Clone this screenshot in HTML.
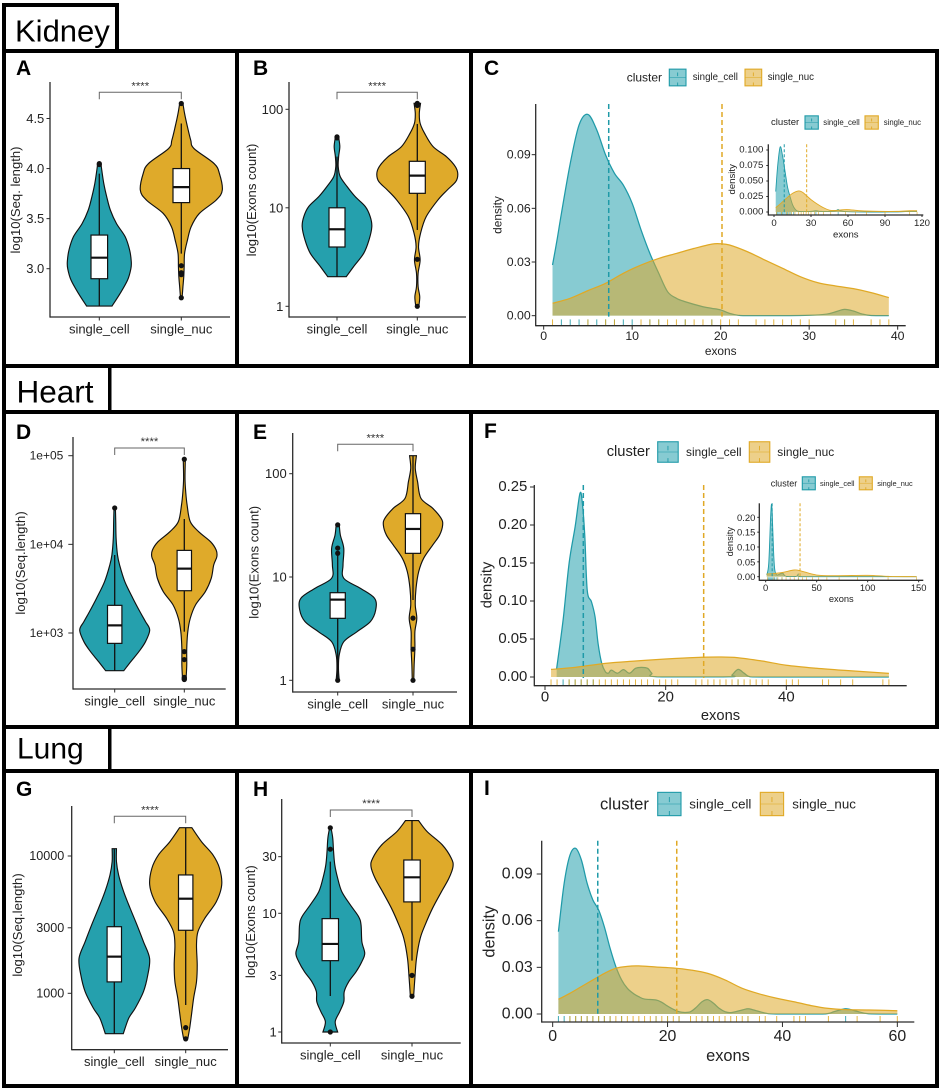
<!DOCTYPE html>
<html lang="en">
<head>
<meta charset="utf-8">
<title>Kidney, Heart and Lung transcript statistics</title>
<style>
html,body{margin:0;padding:0;background:#fff;}
svg{display:block;font-family:"Liberation Sans",sans-serif;}
</style>
</head>
<body>
<svg id="figure" xmlns="http://www.w3.org/2000/svg" width="941" height="1090" viewBox="0 0 941 1090">
<rect x="0" y="0" width="941" height="1090" fill="#fff"/>
<g id="frames" fill="#000">
<rect x="2" y="3" width="4" height="48"/>
<rect x="2" y="3" width="117" height="4"/>
<rect x="115" y="3" width="4" height="48"/>
<rect x="2" y="49" width="937" height="4"/>
<rect x="2" y="364" width="937" height="4"/>
<rect x="2" y="49" width="4" height="319"/>
<rect x="235" y="49" width="4" height="319"/>
<rect x="469" y="49" width="4" height="319"/>
<rect x="935" y="49" width="4" height="319"/>
<rect x="2" y="365" width="4" height="49"/>
<rect x="108" y="365" width="3.5" height="49"/>
<rect x="2" y="410" width="937" height="4"/>
<rect x="2" y="725" width="937" height="4"/>
<rect x="2" y="410" width="4" height="319"/>
<rect x="235" y="410" width="4" height="319"/>
<rect x="469" y="410" width="4" height="319"/>
<rect x="935" y="410" width="4" height="319"/>
<rect x="2" y="725" width="4" height="48"/>
<rect x="108" y="725" width="3.5" height="48"/>
<rect x="2" y="769" width="937" height="4"/>
<rect x="2" y="1084" width="937" height="4"/>
<rect x="2" y="769" width="4" height="319"/>
<rect x="235" y="769" width="4" height="319"/>
<rect x="469" y="769" width="4" height="319"/>
<rect x="935" y="769" width="4" height="319"/>
</g>
<text x="15" y="41.7" font-size="31" fill="#000">Kidney</text>
<text x="16.5" y="402.7" font-size="31.5" fill="#000">Heart</text>
<text x="17" y="758.3" font-size="30" fill="#000">Lung</text>
<g font-weight="bold" font-size="21" fill="#000">
<text x="16" y="75">A</text>
<text x="253" y="75">B</text>
<text x="484" y="75">C</text>
<text x="16" y="439">D</text>
<text x="253" y="439">E</text>
<text x="484" y="438">F</text>
<text x="16" y="796">G</text>
<text x="253" y="796">H</text>
<text x="484" y="795">I</text>
</g>
<g id="charts"></g>
</svg>
<script>
// ---------- shared categories ----------
const categories = ['single_cell', 'single_nuc'];
const clusterTitle = 'cluster';

// ---------- panel A ----------
const aTicks = [3, 3.5, 4, 4.5];
const aTickLabels = ['3.0', '3.5', '4.0', '4.5'];
const aCellValues = [2.627, 2.754, 2.887, 3.0, 3.07, 3.186, 3.32, 3.45, 3.585, 3.72, 3.85, 3.985, 4.05];
const aCellDensity = [31, 51, 69, 77, 78, 74, 63, 42, 27, 18, 11, 6, 4];
const aCellBox = [2.627, 2.90, 3.11, 3.336, 3.95];
const aCellOutliers = [4.05, 4.04];
const aNucValues = [2.714, 2.82, 2.92, 3.02, 3.153, 3.286, 3.419, 3.552, 3.685, 3.785, 3.95, 4.05, 4.20, 4.284, 4.417, 4.55, 4.65];
const aNucDensity = [2, 4, 6, 7, 8, 15, 24, 44, 85, 100, 93, 80, 31, 23, 15, 8, 4];
const aNucBox = [3.15, 3.66, 3.815, 4.0, 4.45];
const aNucOutliers = [4.65, 3.03, 2.96, 2.94, 2.71];

// ---------- panel B ----------
const bTicks = [1, 10, 100];
const bTickLabels = ['1', '10', '100'];
const bCellValues = [0.301, 0.403, 0.538, 0.673, 0.809, 0.91, 1.012, 1.113, 1.215, 1.316, 1.418, 1.519, 1.621, 1.716];
const bCellDensity = [23, 41, 66, 79, 86, 82, 70, 45, 25, 8, 3, 4, 7, 4];
const bCellBox = [0.301, 0.602, 0.782, 1.0, 1.52];
const bCellOutliers = [1.72, 1.71];
const bNucValues = [0.007, 0.098, 0.2, 0.335, 0.47, 0.606, 0.741, 0.91, 1.08, 1.181, 1.266, 1.343, 1.418, 1.519, 1.621, 1.756, 1.858, 1.959, 2.061];
const bNucDensity = [4, 6, 2, 2, 7, 3, 8, 22, 51, 74, 95, 100, 94, 72, 39, 18, 7, 5, 8];
const bNucBox = [0.775, 1.147, 1.327, 1.472, 1.851];
const bNucOutliers = [2.06, 2.05, 2.04, 0.477, 0.0];

// ---------- panel D ----------
const dTicks = [1000, 10000, 100000];
const dTickLabels = ['1e+03', '1e+04', '1e+05'];
const dCellValues = [2.575, 2.677, 2.789, 2.902, 3.034, 3.128, 3.241, 3.391, 3.579, 3.767, 3.88, 4.068, 4.256, 4.406];
const dCellDensity = [26, 46, 69, 88, 100, 88, 72, 52, 29, 14, 8, 4, 3, 2];
const dCellBox = [2.575, 2.883, 3.086, 3.312, 3.88];
const dCellOutliers = [4.41];
const dNucValues = [2.481, 2.639, 2.827, 3.015, 3.165, 3.316, 3.466, 3.617, 3.767, 3.861, 3.936, 4.03, 4.143, 4.256, 4.444, 4.594, 4.744, 4.962];
const dNucDensity = [5, 7, 7, 10, 17, 32, 60, 77, 84, 93, 91, 75, 41, 17, 8, 4, 2, 3];
const dNucBox = [3.015, 3.477, 3.726, 3.932, 4.286];
const dNucOutliers = [4.96, 2.79, 2.70, 2.50, 2.49, 2.48, 2.475];

// ---------- panel E ----------
const eTicks = [1, 10, 100];
const eTickLabels = ['1', '10', '100'];
const eCellValues = [0, 0.116, 0.245, 0.374, 0.471, 0.568, 0.681, 0.794, 0.89, 0.987, 1.116, 1.277, 1.406, 1.51];
const eCellDensity = [4, 2, 4, 16, 51, 86, 100, 97, 60, 16, 14, 16, 7, 4];
const eCellBox = [0.0, 0.6, 0.781, 0.848, 1.245];
const eCellOutliers = [1.505, 1.28, 1.23, 0];
const eNucValues = [0.003, 0.148, 0.31, 0.471, 0.6, 0.729, 0.89, 1.052, 1.181, 1.31, 1.406, 1.503, 1.568, 1.665, 1.761, 1.923, 2.052, 2.174];
const eNucDensity = [2, 3, 5, 5, 10, 6, 8, 15, 28, 52, 70, 78, 74, 52, 21, 12, 6, 9];
const eNucBox = [0.777, 1.229, 1.465, 1.613, 2.174];
const eNucOutliers = [0.602, 0.301, 0];

// ---------- panel G ----------
const gTicks = [1000, 3000, 10000];
const gTickLabels = ['1000', '3000', '10000'];
const gCellValues = [2.706, 2.818, 2.891, 3.012, 3.133, 3.255, 3.376, 3.498, 3.619, 3.74, 3.862, 3.959, 4.053];
const gCellDensity = [25, 40, 58, 81, 93, 98, 81, 63, 44, 26, 12, 6, 6];
const gCellBox = [2.706, 3.083, 3.267, 3.485, 4.053];
const gCellOutliers = [];
const gNucValues = [2.672, 2.745, 2.842, 2.964, 3.085, 3.206, 3.352, 3.449, 3.546, 3.667, 3.789, 3.91, 4.007, 4.104, 4.206];
const gNucDensity = [6, 11, 16, 22, 30, 32, 30, 34, 53, 85, 100, 94, 76, 44, 17];
const gNucBox = [2.915, 3.459, 3.689, 3.862, 4.206];
const gNucOutliers = [2.75, 2.668];

// ---------- panel H ----------
const hTicks = [1, 3, 10, 30];
const hTickLabels = ['1', '3', '10', '30'];
const hCellValues = [0, 0.087, 0.171, 0.256, 0.34, 0.424, 0.508, 0.593, 0.663, 0.761, 0.902, 0.972, 1.07, 1.183, 1.295, 1.407, 1.52, 1.632, 1.716];
const hCellDensity = [18, 12, 23, 33, 34, 45, 63, 77, 84, 77, 75, 69, 49, 28, 18, 11, 8, 6, 2];
const hCellBox = [0.303, 0.601, 0.742, 0.955, 1.435];
const hCellOutliers = [1.72, 1.54, 0];
const hNucValues = [0.303, 0.452, 0.621, 0.789, 0.902, 1.042, 1.183, 1.295, 1.393, 1.463, 1.576, 1.688, 1.781];
const hNucDensity = [4, 7, 11, 20, 32, 50, 72, 90, 100, 96, 74, 37, 16];
const hNucBox = [0.601, 1.096, 1.303, 1.449, 1.781];
const hNucOutliers = [0.477, 0.301];

// ---------- panel C ----------
const cXTicks = [0, 10, 20, 30, 40];
const cYTicks = [0, 0.03, 0.06, 0.09];
const cYTickLabels = ['0.00', '0.03', '0.06', '0.09'];
const cCellX = [1, 1.5, 2, 3, 4, 5, 6, 7, 8, 9, 10, 11, 12, 13, 14, 15, 16, 18, 19, 20, 21, 22, 23, 27, 30, 32, 33, 34, 35, 36, 37, 39];
const cCellDensity = [0.0283, 0.042, 0.057, 0.085, 0.1066, 0.1125, 0.1038, 0.0898, 0.0796, 0.073, 0.0628, 0.048, 0.0348, 0.0237, 0.0134, 0.0097, 0.0078, 0.005, 0.0041, 0.0032, 0.0013, 0.0002, 0, 0, 0.0002, 0.0009, 0.0022, 0.0035, 0.0026, 0.0009, 0.0001, 0];
const cNucX = [1, 3, 5, 7, 9, 11, 13, 15, 17, 19, 20, 21, 23, 25, 27, 29, 31, 33, 35, 37, 39];
const cNucDensity = [0.0069, 0.0097, 0.014, 0.0181, 0.0237, 0.0283, 0.032, 0.0348, 0.0376, 0.04, 0.0402, 0.0395, 0.0358, 0.0311, 0.0265, 0.0218, 0.0184, 0.0166, 0.0151, 0.0129, 0.0101];
const cMeans = [7.35, 20.15];
const cCellRug = [2, 3, 4, 5, 6, 7, 8, 9, 10, 12, 13, 16, 19, 34];
const cNucRug = [1, 5, 7, 8, 11, 12, 13, 14, 15, 16, 17, 18, 19, 20, 21, 22, 24, 25, 26, 27, 28, 29, 30, 33, 34, 35, 37, 38, 39];

// ---------- panel C inset ----------
const ciXTicks = [0, 30, 60, 90, 120];
const ciYTicks = [0, 0.025, 0.05, 0.075, 0.1];
const ciYTickLabels = ['0.000', '0.025', '0.050', '0.075', '0.100'];
const ciCellX = [1.4, 3, 5, 7, 9, 11, 13, 15, 17, 20, 30, 34, 38, 45, 50, 52, 54, 60, 80, 100, 110, 116];
const ciCellDensity = [0.033, 0.075, 0.105, 0.09, 0.065, 0.04, 0.025, 0.012, 0.005, 0.001, 0.001, 0.002, 0.001, 0.001, 0.002, 0.004, 0.002, 0.0005, 0, 0.0002, 0.001, 0.001];
const ciNucX = [1.4, 5, 10, 15, 20, 23, 26, 30, 35, 40, 45, 50, 59, 70, 85, 100, 110, 116];
const ciNucDensity = [0.007, 0.013, 0.022, 0.03, 0.034, 0.032, 0.027, 0.02, 0.013, 0.007, 0.003, 0.0025, 0.004, 0.002, 0.001, 0.001, 0.002, 0.002];
const ciMeans = [8.3, 26.5];
const ciCellRug = [2, 3, 4, 5, 6, 7, 8, 9, 10, 11, 12, 13, 14, 16, 34, 52];
const ciNucRug = [2, 6, 10, 12, 14, 17, 20, 22, 24, 26, 28, 30, 33, 36, 40, 46, 58, 66, 75, 90, 110, 116];

// ---------- panel F ----------
const fXTicks = [0, 20, 40];
const fYTicks = [0, 0.05, 0.1, 0.15, 0.2, 0.25];
const fYTickLabels = ['0.00', '0.05', '0.10', '0.15', '0.20', '0.25'];
const fCellX = [1.93, 3, 4, 5, 5.8, 6.2, 6.6, 7, 7.7, 8.3, 8.8, 9.4, 10, 10.5, 11, 12, 13, 14, 15, 16, 17, 17.7, 18.5, 30.5, 31, 32, 33, 34, 37, 57];
const fCellDensity = [0.011, 0.075, 0.15, 0.198, 0.2417, 0.228, 0.185, 0.114, 0.099, 0.079, 0.044, 0.018, 0.007, 0.005, 0.009, 0.005, 0.0097, 0.005, 0.0114, 0.0127, 0.0114, 0.005, 0.0004, 0.0004, 0.0026, 0.01, 0.005, 0.0004, 0, 0];
const fNucX = [1, 5, 10, 15, 20, 25, 29, 32, 36, 40, 45, 50, 57];
const fNucDensity = [0.01, 0.0127, 0.018, 0.021, 0.0237, 0.0257, 0.0263, 0.0254, 0.021, 0.0155, 0.0115, 0.0085, 0.0048];
const fMeans = [6.35, 26.3];
const fCellRug = [3, 4, 5, 6, 7, 8, 32];
const fNucRug = [1, 2, 4, 5, 6, 7, 8, 9, 10, 11, 12, 13, 14, 15, 16, 17, 18, 19, 20, 21, 22, 25, 26, 27, 28, 29, 30, 31, 32, 33, 34, 35, 36, 37, 40, 41, 42, 46, 47, 49, 51, 56, 57];

// ---------- panel F inset ----------
const fiXTicks = [0, 50, 100, 150];
const fiYTicks = [0, 0.05, 0.1, 0.15, 0.2];
const fiYTickLabels = ['0.00', '0.05', '0.10', '0.15', '0.20'];
const fiCellX = [1, 3, 5, 6, 7, 8, 9, 11, 15, 17, 20, 30, 32, 34, 60, 148];
const fiCellDensity = [0.006, 0.045, 0.213, 0.24, 0.157, 0.067, 0.022, 0.0056, 0.011, 0.011, 0.001, 0.001, 0.009, 0, 0, 0];
const fiNucX = [1, 15, 28, 35, 50, 70, 100, 120, 148];
const fiNucDensity = [0.009, 0.0135, 0.0225, 0.019, 0.0056, 0.0034, 0.0045, 0.001, 0];
const fiMeans = [6.35, 33.7];
const fiCellRug = [2, 3, 4, 5, 6, 7, 8, 9, 11, 16, 32];
const fiNucRug = [2, 8, 12, 16, 20, 24, 28, 32, 36, 40, 46, 52, 60, 72, 90, 105, 120, 148];

// ---------- panel I ----------
const iXTicks = [0, 20, 40, 60];
const iYTicks = [0, 0.03, 0.06, 0.09];
const iYTickLabels = ['0.00', '0.03', '0.06', '0.09'];
const iCellX = [1, 2, 3, 4, 5, 6, 7, 8, 9, 10, 11, 12, 13, 14, 15, 16, 18, 19, 20, 21, 22, 23, 24, 25, 26, 27, 28, 29, 30, 31, 33, 34, 35, 37, 39, 47, 49, 51, 53, 55, 60];
const iCellDensity = [0.0529, 0.084, 0.102, 0.1065, 0.099, 0.084, 0.0733, 0.0669, 0.056, 0.0422, 0.0304, 0.0219, 0.0165, 0.0133, 0.0111, 0.0096, 0.009, 0.0075, 0.0051, 0.003, 0.0015, 0.001, 0.0015, 0.0043, 0.0079, 0.0092, 0.0069, 0.0036, 0.0015, 0.0009, 0.0026, 0.0034, 0.0026, 0.0006, 0, 0, 0.0015, 0.0034, 0.0017, 0.0002, 0];
const iNucX = [1, 3, 5, 7, 9, 11, 13, 15, 18, 21, 24, 27, 30, 33, 36, 39, 42, 45, 48, 51, 55, 60];
const iNucDensity = [0.0094, 0.0133, 0.0176, 0.0219, 0.0261, 0.0294, 0.0306, 0.0309, 0.0302, 0.0296, 0.0283, 0.0261, 0.0219, 0.0165, 0.0129, 0.0101, 0.0079, 0.0054, 0.0036, 0.0028, 0.0026, 0.0021];
const iMeans = [7.85, 21.6];
const iCellRug = [1, 2, 3, 4, 5, 6, 7, 8, 9, 10, 12, 18, 20, 22, 27, 34, 51];
const iNucRug = [3, 4, 5, 6, 7, 8, 9, 10, 11, 12, 13, 14, 15, 16, 17, 18, 19, 20, 21, 22, 24, 25, 26, 27, 28, 29, 30, 31, 32, 33, 34, 36, 37, 39, 42, 43, 44, 48, 53, 57, 60];

// ---------- drawing helpers ----------
const NS = 'http://www.w3.org/2000/svg';
const TEAL = '#25a0ad';
const GOLD = '#dfaa2a';
const TEAL_LINE = '#1f9aa8';
const GOLD_LINE = '#e0a925';
const AXIS = '#2b2b2b';
const root = document.getElementById('charts');

function el(tag, attrs, parent, name, text) {
  const e = document.createElementNS(NS, tag);
  for (const k in attrs) e.setAttribute(k, attrs[k]);
  
  
  if (text !== undefined) e.textContent = text;
  parent.appendChild(e);
  return e;
}

function linear(d0, r0, d1, r1) {
  const k = (r1 - r0) / (d1 - d0);
  return v => r0 + (v - d0) * k;
}

function smooth(pts, minY, maxY) {
  let d = '';
  const t = 1 / 6;
  const lim = v => Math.min(maxY, Math.max(minY, v));
  for (let i = 0; i < pts.length - 1; i++) {
    const p0 = pts[Math.max(i - 1, 0)], p1 = pts[i], p2 = pts[i + 1], p3 = pts[Math.min(i + 2, pts.length - 1)];
    const c1x = p1[0] + (p2[0] - p0[0]) * t, c1y = lim(p1[1] + (p2[1] - p0[1]) * t);
    const c2x = p2[0] - (p3[0] - p1[0]) * t, c2y = lim(p2[1] - (p3[1] - p1[1]) * t);
    d += 'C' + c1x.toFixed(2) + ' ' + c1y.toFixed(2) + ' ' + c2x.toFixed(2) + ' ' + c2y.toFixed(2) + ' ' + p2[0].toFixed(2) + ' ' + p2[1].toFixed(2);
  }
  return d;
}

function drawAxesFrame(g, c) {
  el('line', {x1: c.axisX0, x2: c.axisX0, y1: c.axisTop, y2: c.axisY + 0.6, stroke: AXIS, 'stroke-width': c.axisW || 1.3}, g, 'y-axis-line');
  el('line', {x1: c.axisX0, x2: c.axisX1, y1: c.axisY, y2: c.axisY, stroke: AXIS, 'stroke-width': c.axisW || 1.3}, g, 'x-axis-line');
}

function drawYTicks(g, c, ticks, labels, posFn) {
  ticks.forEach((t, i) => {
    const y = posFn(t);
    el('line', {x1: c.axisX0 - (c.tickLen || 3.5), x2: c.axisX0, y1: y, y2: y, stroke: AXIS, 'stroke-width': 1}, g, 'y-tick-' + labels[i]);
    el('text', {x: c.axisX0 - c.labelOff, y: y, 'text-anchor': 'end', 'dominant-baseline': 'central', 'font-size': c.tickFont, fill: '#222'}, g, 'y-tick-label-' + labels[i], labels[i]);
  });
}

function drawViolinPanel(c) {
  const g = el('g', {}, root, 'panel-' + c.id);
  const y = linear(c.yRef[0], c.yRef[1], c.yRef[2], c.yRef[3]);
  const tickPos = t => y(c.logTicks ? Math.log10(t) : t);
  drawAxesFrame(g, c);
  drawYTicks(g, c, c.ticks, c.tickLabels, tickPos);
  el('text', {x: c.titleX, y: c.titleY, 'text-anchor': 'middle', 'dominant-baseline': 'central', 'font-size': 13.1, fill: '#222', transform: 'rotate(-90 ' + c.titleX + ' ' + c.titleY + ')'}, g, 'y-axis-title', c.title);
  categories.forEach((cat, i) => {
    const cx = c.catX[i];
    el('line', {x1: cx, x2: cx, y1: c.axisY, y2: c.axisY + 3.5, stroke: AXIS, 'stroke-width': 1}, g, 'x-tick-' + cat);
    el('text', {x: cx, y: c.axisY + 12, 'text-anchor': 'middle', 'dominant-baseline': 'central', 'font-size': 13, fill: '#222'}, g, 'x-tick-label-' + cat, cat);
    const s = c.series[i];
    const w = d => d / 100 * c.maxHalf;
    const left = s.values.map((v, k) => [cx - w(s.density[k]), y(v)]);
    const right = s.values.map((v, k) => [cx + w(s.density[k]), y(v)]).reverse();
    let d = 'M' + left[0][0].toFixed(2) + ' ' + left[0][1].toFixed(2) + smooth(left, -1e5, 1e5);
    d += 'L' + right[0][0].toFixed(2) + ' ' + right[0][1].toFixed(2) + smooth(right, -1e5, 1e5) + 'Z';
    el('path', {d: d, fill: i === 0 ? TEAL : GOLD, stroke: '#111', 'stroke-width': 1.15}, g, 'violin-' + cat);
    const b = s.box;
    el('line', {x1: cx, x2: cx, y1: y(b[0]), y2: y(b[4]), stroke: '#111', 'stroke-width': 1.3}, g, 'whisker-' + cat);
    el('rect', {x: cx - c.boxHalf, y: y(b[3]), width: c.boxHalf * 2, height: y(b[1]) - y(b[3]), fill: '#fff', stroke: '#111', 'stroke-width': 1.2}, g, 'box-' + cat);
    el('line', {x1: cx - c.boxHalf, x2: cx + c.boxHalf, y1: y(b[2]), y2: y(b[2]), stroke: '#111', 'stroke-width': 2.2}, g, 'median-' + cat);
    s.outliers.forEach(o => {
      el('circle', {cx: cx, cy: y(o), r: 2.6, fill: '#111'}, g, 'outlier-' + cat);
    });
  });
  const bx0 = c.catX[0], bx1 = c.catX[1];
  el('path', {d: 'M' + bx0 + ' ' + (c.bracketY + 7) + 'V' + c.bracketY + 'H' + bx1 + 'V' + (c.bracketY + 7 - (c.bracketDrop || 0)), fill: 'none', stroke: '#666', 'stroke-width': 1}, g, 'significance-bracket');
  el('text', {x: (bx0 + bx1) / 2, y: c.bracketY - 3, 'text-anchor': 'middle', 'font-size': 11.4, fill: '#333'}, g, 'significance-stars', '****');
}

function drawDensityPanel(c) {
  const g = el('g', {}, root, 'panel-' + c.id);
  const x = linear(c.xRef[0], c.xRef[1], c.xRef[2], c.xRef[3]);
  const y = linear(c.yRef[0], c.yRef[1], c.yRef[2], c.yRef[3]);
  const base = y(0);
  const series = [
    {name: categories[0], xs: c.cellX, ds: c.cellDensity, rug: c.cellRug, mean: c.means[0], fill: TEAL, line: TEAL_LINE},
    {name: categories[1], xs: c.nucX, ds: c.nucDensity, rug: c.nucRug, mean: c.means[1], fill: GOLD, line: GOLD_LINE}
  ];
  series.forEach(s => {
    const pts = s.xs.map((v, k) => [x(v), y(s.ds[k])]);
    const top = 'M' + pts[0][0].toFixed(2) + ' ' + pts[0][1].toFixed(2) + smooth(pts, 0, base);
    const last = pts[pts.length - 1];
    el('path', {d: top + 'L' + last[0].toFixed(2) + ' ' + base + 'L' + pts[0][0].toFixed(2) + ' ' + base + 'Z', fill: s.fill, 'fill-opacity': 0.55, stroke: 'none'}, g, 'density-area-' + s.name);
    el('path', {d: top, fill: 'none', stroke: s.line, 'stroke-width': c.lineW || 1.25}, g, 'density-line-' + s.name);
  });
  series.forEach(s => {
    el('line', {x1: x(s.mean), x2: x(s.mean), y1: c.axisTop, y2: base + 1, stroke: s.line, 'stroke-width': c.dashW || 1.5, 'stroke-dasharray': c.dash || '5 3'}, g, 'mean-line-' + s.name);
    s.rug.forEach(v => {
      el('line', {x1: x(v), x2: x(v), y1: c.axisY - c.rugLen, y2: c.axisY, stroke: s.line, 'stroke-width': c.rugW || 1, 'stroke-opacity': 0.85}, g, 'rug-' + s.name);
    });
  });
  drawAxesFrame(g, c);
  drawYTicks(g, c, c.yTicks, c.yTickLabels, y);
  c.xTicks.forEach(t => {
    el('line', {x1: x(t), x2: x(t), y1: c.axisY, y2: c.axisY + (c.tickLen || 3.5), stroke: AXIS, 'stroke-width': 1}, g, 'x-tick-' + t);
    el('text', {x: x(t), y: c.xLabelY, 'text-anchor': 'middle', 'dominant-baseline': 'central', 'font-size': c.tickFont, fill: '#222'}, g, 'x-tick-label-' + t, String(t));
  });
  el('text', {x: (c.axisX0 + c.axisX1) / 2, y: c.xTitleY, 'text-anchor': 'middle', 'dominant-baseline': 'central', 'font-size': c.titleFont, fill: '#222'}, g, 'x-axis-title', 'exons');
  el('text', {x: c.yTitleX, y: c.yTitleY, 'text-anchor': 'middle', 'dominant-baseline': 'central', 'font-size': c.titleFont, fill: '#222', transform: 'rotate(-90 ' + c.yTitleX + ' ' + c.yTitleY + ')'}, g, 'y-axis-title', 'density');
  const L = c.legend;
  const lg = el('g', {}, g, 'legend');
  el('text', {x: L.titleX, y: L.cy, 'dominant-baseline': 'central', 'font-size': L.titleFont, fill: '#222'}, lg, 'legend-title', clusterTitle);
  categories.forEach((cat, i) => {
    const kx = L.keyX[i], ky = L.cy - L.size / 2, sz = L.size;
    const col = i === 0 ? TEAL_LINE : GOLD_LINE, fill = i === 0 ? TEAL : GOLD;
    el('rect', {x: kx, y: ky, width: sz, height: sz, fill: fill, 'fill-opacity': 0.55, stroke: col, 'stroke-width': 1.1}, lg, 'legend-key-' + cat);
    el('line', {x1: kx, x2: kx + sz, y1: L.cy, y2: L.cy, stroke: col, 'stroke-width': 0.7, 'stroke-opacity': 0.7}, lg, 'legend-key-midline-' + cat);
    el('line', {x1: kx + sz / 2, x2: kx + sz / 2, y1: ky + sz * 0.2, y2: ky + sz * 0.42, stroke: col, 'stroke-width': 0.9}, lg, 'legend-key-tick-top-' + cat);
    el('line', {x1: kx + sz / 2, x2: kx + sz / 2, y1: ky + sz * 0.8, y2: ky + sz, stroke: col, 'stroke-width': 0.9}, lg, 'legend-key-tick-bottom-' + cat);
    el('text', {x: L.labelX[i], y: L.cy, 'dominant-baseline': 'central', 'font-size': L.labelFont, fill: '#222'}, lg, 'legend-label-' + cat, cat);
  });
}

// ---------- violin panels ----------
drawViolinPanel({id: 'a', axisX0: 50, axisX1: 230, axisY: 317, axisTop: 82, labelOff: 5.7, yRef: [3, 268.7, 4.5, 118.5], catX: [99.3, 181.3], maxHalf: 41, boxHalf: 8.3, ticks: aTicks, tickLabels: aTickLabels, logTicks: false, tickFont: 13, title: 'log10(Seq. length)', titleX: 15.7, titleY: 200, bracketY: 92.3, series: [
  {values: aCellValues, density: aCellDensity, box: aCellBox, outliers: aCellOutliers},
  {values: aNucValues, density: aNucDensity, box: aNucBox, outliers: aNucOutliers}]});
drawViolinPanel({id: 'b', axisX0: 289, axisX1: 466, axisY: 317, axisTop: 82, labelOff: 5.7, yRef: [0, 306.3, 2, 109.3], catX: [337, 417.3], maxHalf: 40.5, boxHalf: 8, ticks: bTicks, tickLabels: bTickLabels, logTicks: true, tickFont: 13, title: 'log10(Exons count)', titleX: 251.7, titleY: 200, bracketY: 92.3, series: [
  {values: bCellValues, density: bCellDensity, box: bCellBox, outliers: bCellOutliers},
  {values: bNucValues, density: bNucDensity, box: bNucBox, outliers: bNucOutliers}]});
drawViolinPanel({id: 'd', axisX0: 73, axisX1: 225.7, axisY: 689, axisTop: 437, labelOff: 9.7, tickLen: 4.7, yRef: [3, 633, 5, 455.7], catX: [114.7, 184.3], maxHalf: 35, boxHalf: 7.2, ticks: dTicks, tickLabels: dTickLabels, logTicks: true, tickFont: 12, title: 'log10(Seq.length)', titleX: 20.7, titleY: 563, bracketY: 448, series: [
  {values: dCellValues, density: dCellDensity, box: dCellBox, outliers: dCellOutliers},
  {values: dNucValues, density: dNucDensity, box: dNucBox, outliers: dNucOutliers}]});
drawViolinPanel({id: 'e', axisX0: 292.7, axisX1: 457, axisY: 692, axisTop: 433, labelOff: 6, yRef: [0, 680.3, 2, 473.7], catX: [337.7, 413], maxHalf: 38, boxHalf: 7.6, ticks: eTicks, tickLabels: eTickLabels, logTicks: true, tickFont: 13, title: 'log10(Exons count)', titleX: 254, titleY: 562.3, bracketY: 444.3, series: [
  {values: eCellValues, density: eCellDensity, box: eCellBox, outliers: eCellOutliers},
  {values: eNucValues, density: eNucDensity, box: eNucBox, outliers: eNucOutliers}]});
drawViolinPanel({id: 'g', axisX0: 71.7, axisX1: 228, axisY: 1049.7, axisTop: 806, labelOff: 7.4, tickLen: 4, yRef: [3, 993.3, 4, 856], catX: [114.3, 185.7], maxHalf: 36, boxHalf: 7.2, ticks: gTicks, tickLabels: gTickLabels, logTicks: true, tickFont: 12.6, title: 'log10(Seq.length)', titleX: 17.3, titleY: 925, bracketY: 816.3, series: [
  {values: gCellValues, density: gCellDensity, box: gCellBox, outliers: gCellOutliers},
  {values: gNucValues, density: gNucDensity, box: gNucBox, outliers: gNucOutliers}]});
drawViolinPanel({id: 'h', axisX0: 281.7, axisX1: 460.7, axisY: 1043, axisTop: 799, labelOff: 5, yRef: [0, 1032, 1, 913.3], catX: [330.3, 412], maxHalf: 41, boxHalf: 8.2, ticks: hTicks, tickLabels: hTickLabels, logTicks: true, tickFont: 13, title: 'log10(Exons count)', titleX: 250.7, titleY: 921.7, bracketY: 810, series: [
  {values: hCellValues, density: hCellDensity, box: hCellBox, outliers: hCellOutliers},
  {values: hNucValues, density: hNucDensity, box: hNucBox, outliers: hNucOutliers}]});

// ---------- density panels ----------
drawDensityPanel({id: 'c', xRef: [0, 543.67, 40, 897.67], yRef: [0, 315.67, 0.09, 154.67], axisX0: 535.7, axisX1: 905.7, axisY: 325.7, axisTop: 104, labelOff: 5, tickLen: 4, rugLen: 6.3, tickFont: 12.3, titleFont: 11.9, xLabelY: 336, xTitleY: 351, yTitleX: 497.3, yTitleY: 215, xTicks: cXTicks, yTicks: cYTicks, yTickLabels: cYTickLabels, cellX: cCellX, cellDensity: cCellDensity, nucX: cNucX, nucDensity: cNucDensity, means: cMeans, cellRug: cCellRug, nucRug: cNucRug,
  legend: {titleX: 626.7, cy: 77.5, titleFont: 12, size: 16.7, keyX: [669.3, 745], labelX: [692.7, 767.7], labelFont: 9.7}});
drawDensityPanel({id: 'c-inset', xRef: [0, 774, 120, 922], yRef: [0, 212, 0.1, 150], axisX0: 768.3, axisX1: 923.3, axisY: 215, axisTop: 144.3, labelOff: 5, rugLen: 3, tickLen: 2, rugW: 0.7, lineW: 0.9, dashW: 1, dash: '3 2', tickFont: 9.6, titleFont: 9.6, xLabelY: 223.3, xTitleY: 235, yTitleX: 732.3, yTitleY: 179.3, xTicks: ciXTicks, yTicks: ciYTicks, yTickLabels: ciYTickLabels, cellX: ciCellX, cellDensity: ciCellDensity, nucX: ciNucX, nucDensity: ciNucDensity, means: ciMeans, cellRug: ciCellRug, nucRug: ciNucRug,
  legend: {titleX: 771, cy: 122.5, titleFont: 9.6, size: 13.3, keyX: [805, 865], labelX: [823.3, 883.7], labelFont: 7.8}});
drawDensityPanel({id: 'f', xRef: [0, 545, 40, 786.33], yRef: [0, 677, 0.25, 487], axisX0: 534.3, axisX1: 906.7, axisY: 685.7, axisTop: 485, labelOff: 7, tickLen: 4.3, rugLen: 6.3, tickFont: 14.9, titleFont: 14.7, xLabelY: 697.7, xTitleY: 716, yTitleX: 487.3, yTitleY: 585, xTicks: fXTicks, yTicks: fYTicks, yTickLabels: fYTickLabels, cellX: fCellX, cellDensity: fCellDensity, nucX: fNucX, nucDensity: fNucDensity, means: fMeans, cellRug: fCellRug, nucRug: fNucRug,
  legend: {titleX: 606.7, cy: 452, titleFont: 14.7, size: 20.5, keyX: [657.7, 749.3], labelX: [686, 777.3], labelFont: 11.9}});
drawDensityPanel({id: 'f-inset', xRef: [0, 765.67, 150, 918.67], yRef: [0, 576.67, 0.2, 517.33], axisX0: 759.3, axisX1: 923.3, axisY: 580.3, axisTop: 503.3, labelOff: 4, rugLen: 3, tickLen: 2, rugW: 0.7, lineW: 0.9, dashW: 1, dash: '3 2', tickFont: 9.4, titleFont: 9.3, xLabelY: 587.7, xTitleY: 599, yTitleX: 730, yTitleY: 541.7, xTicks: fiXTicks, yTicks: fiYTicks, yTickLabels: fiYTickLabels, cellX: fiCellX, cellDensity: fiCellDensity, nucX: fiNucX, nucDensity: fiNucDensity, means: fiMeans, cellRug: fiCellRug, nucRug: fiNucRug,
  legend: {titleX: 770.7, cy: 483.3, titleFont: 9, size: 13, keyX: [802.3, 859.3], labelX: [820, 877.3], labelFont: 7.4}});
drawDensityPanel({id: 'i', xRef: [0, 552.67, 60, 897.33], yRef: [0, 1014, 0.09, 874], axisX0: 541.7, axisX1: 914.3, axisY: 1022, axisTop: 840.7, labelOff: 9, tickLen: 5, rugLen: 6, tickFont: 15.9, titleFont: 16.4, xLabelY: 1036.7, xTitleY: 1056, yTitleX: 489.3, yTitleY: 931.7, xTicks: iXTicks, yTicks: iYTicks, yTickLabels: iYTickLabels, cellX: iCellX, cellDensity: iCellDensity, nucX: iNucX, nucDensity: iNucDensity, means: iMeans, cellRug: iCellRug, nucRug: iNucRug,
  legend: {titleX: 600, cy: 804, titleFont: 16.6, size: 23.3, keyX: [657.7, 760.3], labelX: [689.3, 792.3], labelFont: 13.3}});
</script>
</body>
</html>
